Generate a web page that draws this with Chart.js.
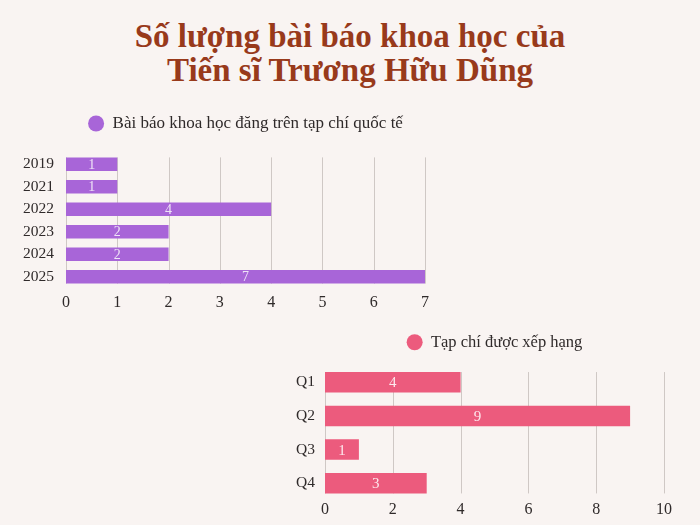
<!DOCTYPE html>
<html>
<head>
<meta charset="utf-8">
<script src="https://cdn.jsdelivr.net/npm/chart.js@4.4.1/dist/chart.umd.min.js"></script>
<style>
    html, body { margin: 0; padding: 0; background: #f9f4f2; width: 700px; height: 525px; overflow: hidden; }
    #title {
        position: absolute; left: 0; top: 19px; width: 700px; text-align: center;
        font: bold 33px "Liberation Serif", serif; line-height: 34px; color: #983a1b;
    }
    .box { position: absolute; }
</style>
</head>
<body>
<div id="title">Số lượng bài báo khoa học của<br>Tiến sĩ Trương Hữu Dũng</div>
<div class="box" style="left:0;top:105px;width:491px;height:215px"><canvas id="yearChart"></canvas></div>
<div class="box" style="left:280px;top:324px;width:420px;height:198px"><canvas id="rankChart"></canvas></div>

<script>
// data
const years = ['2019', '2021', '2022', '2023', '2024', '2025'];
const paperCounts = [1, 1, 4, 2, 2, 7];
const ranks = ['Q1', 'Q2', 'Q3', 'Q4'];
const rankCounts = [4, 9, 1, 3];

const SERIF = '"Liberation Serif", "DejaVu Serif", serif';
const GRID = '#cfc8c5';
const TEXT = '#2f2a2a';

/**
 * Extra space between legend and plot
 */
const legendGap = {
    id: 'legendGap',
    beforeInit(chart, args, opts) {
        const legend = chart.legend;
        if (!legend) return;
        const fit = legend.fit;
        legend.fit = function() {
            fit.call(this);
            this.height += opts.gap || 0;
        };
    }
};

/**
 * Vertical grid lines only across the span of the bars
 */
const barGrid = {
    id: 'barGrid',
    beforeDatasetsDraw(chart) {
        const bars = chart.getDatasetMeta(0).data;
        if (!bars.length) return;
        const top = bars[0].y - bars[0].height / 2;
        const last = bars[bars.length - 1];
        const bottom = last.y + last.height / 2;
        const ctx = chart.ctx;
        const xs = chart.scales.x;
        ctx.save();
        ctx.strokeStyle = GRID;
        ctx.lineWidth = 1;
        xs.ticks.forEach(t => {
            const x = Math.round(xs.getPixelForValue(t.value)) + 0.5;
            ctx.beginPath();
            ctx.moveTo(x, top);
            ctx.lineTo(x, bottom);
            ctx.stroke();
        });
        ctx.restore();
    }
};

/**
 * Value label in the middle of each bar
 */
const barValues = {
    id: 'barValues',
    afterDatasetsDraw(chart, args, opts) {
        const ctx = chart.ctx;
        const ds = chart.data.datasets[0];
        ctx.save();
        ctx.fillStyle = opts.color;
        ctx.font = opts.size + 'px ' + SERIF;
        ctx.textAlign = 'center';
        ctx.textBaseline = 'middle';
        chart.getDatasetMeta(0).data.forEach((bar, i) => {
            const p = bar.getProps(['x', 'y', 'base'], true);
            ctx.fillText(ds.data[i], (p.x + p.base) / 2, p.y + 1);
        });
        ctx.restore();
    }
};

function makeChart(id, labels, values, cfg) {
    return new Chart(document.getElementById(id), {
        type: 'bar',
        data: {
            labels: labels,
            datasets: [{
                label: cfg.legend,
                data: values,
                backgroundColor: cfg.color,
                borderWidth: 0,
                categoryPercentage: 0.61,
                barPercentage: 1
            }]
        },
        options: {
            indexAxis: 'y',
            responsive: true,
            maintainAspectRatio: false,
            animation: false,
            layout: { padding: { top: 0, right: cfg.right, bottom: 0, left: 0 } },
            plugins: {
                legend: {
                    position: 'top',
                    fullSize: false,
                    labels: {
                        usePointStyle: true,
                        pointStyle: 'circle',
                        pointStyleWidth: 16,
                        boxHeight: 11.3,
                        padding: 10,
                        color: TEXT,
                        font: { family: SERIF, size: cfg.legendSize }
                    }
                },
                legendGap: { gap: cfg.gap },
                tooltip: { enabled: false },
                barValues: { color: cfg.labelColor, size: cfg.valueSize }
            },
            scales: {
                x: {
                    min: 0,
                    max: cfg.max,
                    ticks: { stepSize: cfg.step, padding: cfg.xPad, color: TEXT, font: { family: SERIF, size: 16 } },
                    grid: { display: false, drawTicks: false },
                    border: { display: false },
                    afterFit: s => { s.height = cfg.xHeight; }
                },
                y: {
                    ticks: { padding: cfg.yPad, color: TEXT, font: { family: SERIF, size: 15.5 } },
                    grid: { display: false, drawTicks: false },
                    border: { display: false },
                    afterFit: s => { s.width = cfg.yWidth; }
                }
            }
        },
        plugins: [legendGap, barGrid, barValues]
    });
}

makeChart('yearChart', years, paperCounts, {
    legend: 'Bài báo khoa học đăng trên tạp chí quốc tế',
    color: '#a865d8', labelColor: '#efe4f7', valueSize: 14,
    legendSize: 17, gap: 11, max: 7, step: 1,
    yWidth: 66, yPad: 12, xHeight: 32, xPad: 5, right: 66
});
makeChart('rankChart', ranks, rankCounts, {
    legend: 'Tạp chí được xếp hạng',
    color: '#ec5b7d', labelColor: '#fde8ed', valueSize: 15,
    legendSize: 16.5, gap: 5, max: 10, step: 2,
    yWidth: 45, yPad: 10, xHeight: 22, xPad: 0, right: 36
});
</script>
</body>
</html>
